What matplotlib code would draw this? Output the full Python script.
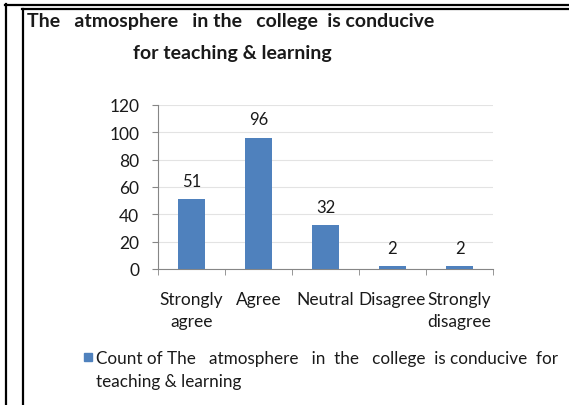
import numpy as np
import matplotlib.pyplot as plt
from matplotlib.lines import Line2D

categories = ["Strongly\nagree", "Agree", "Neutral", "Disagree", "Strongly\ndisagree"]
counts = [51, 96, 32, 2, 2]
y_ticks = [0, 20, 40, 60, 80, 100, 120]

W, H = 569, 406
fig = plt.figure(figsize=(W / 100, H / 100), dpi=100)
plt.rcParams['font.family'] = ['Lato', 'DejaVu Sans']
txt = '#1a1a1a'

# frame lines around the sheet (pixel coordinates from the top-left)
def hline(y, x0, x1, lw):
    fig.add_artist(Line2D([x0 / W, x1 / W], [1 - y / H, 1 - y / H], color='black', lw=lw,
                          transform=fig.transFigure))

def vline(x, y0, y1, lw):
    fig.add_artist(Line2D([x / W, x / W], [1 - y0 / H, 1 - y1 / H], color='black', lw=lw,
                          transform=fig.transFigure))

hline(6, 5, W, 1.6)
vline(6, 5, H, 1.6)
hline(10, 22, W, 1.6)
vline(23, 10, H, 1.6)

fig.text(27 / W, 1 - 22 / H, "The   atmosphere   in the   college  is conducive",
         fontsize=14, fontweight='bold', va='center', ha='left', color=txt)
fig.text(232 / W, 1 - 53 / H, "for teaching & learning",
         fontsize=14, fontweight='bold', va='center', ha='center', color=txt)

ax = fig.add_axes([158 / W, 1 - 270 / H, (493 - 158) / W, (270 - 106) / H])
x = np.arange(len(categories))
ax.bar(x, counts, width=0.39, color='#4F81BD', zorder=3)
for xi, v in zip(x, counts):
    ax.text(xi, v + 13.5, str(v), ha='center', va='center', fontsize=12, color=txt)

ax.set_xlim(-0.5, len(categories) - 0.5)
ax.set_ylim(0, 120)
ax.set_yticks(y_ticks)
ax.yaxis.grid(True, color='#E3E3E3', lw=0.8, zorder=0)
ax.set_xticks(x)
ax.set_xticklabels(categories, fontsize=12.5, color=txt, linespacing=1.45)
ax.set_xticks(np.arange(-0.5, len(categories)), minor=True)
ax.tick_params(axis='x', which='major', length=0, pad=16)
ax.tick_params(axis='x', which='minor', length=4.5, color='#868686', direction='out')
ax.tick_params(axis='y', length=4.5, color='#868686', labelsize=12.5, labelcolor=txt, pad=9)
for s in ['top', 'right']:
    ax.spines[s].set_visible(False)
for s in ['left', 'bottom']:
    ax.spines[s].set_color('#868686')

# legend drawn as a square marker with wrapped text
fig.patches.append(plt.Rectangle((84 / W, 1 - 362 / H), 8 / W, 8 / H, color='#4F81BD',
                                 transform=fig.transFigure))
fig.text(96 / W, 1 - 359 / H, "Count of The   atmosphere   in  the   college  is conducive  for",
         fontsize=12.3, va='center', ha='left', color=txt)
fig.text(96 / W, 1 - 382 / H, "teaching & learning",
         fontsize=12.3, va='center', ha='left', color=txt)

fig.savefig("out.png", dpi=100)
